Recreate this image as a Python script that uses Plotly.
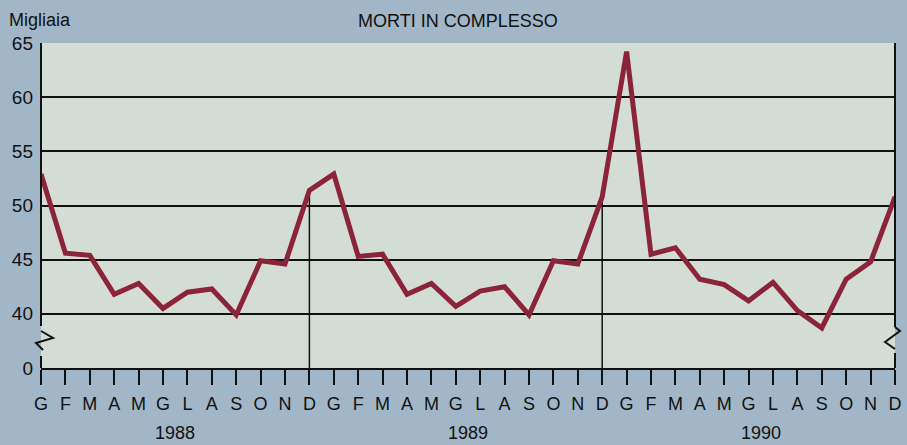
import plotly.graph_objects as go

# ---- data ----
months = ["G", "F", "M", "A", "M", "G", "L", "A", "S", "O", "N", "D"]
years = ["1988", "1989", "1990"]
v1988 = [52.9, 45.6, 45.4, 41.8, 42.8, 40.5, 42.0, 42.3, 39.9, 44.9, 44.6, 51.4]
v1989 = [52.9, 45.3, 45.5, 41.8, 42.8, 40.7, 42.1, 42.5, 39.9, 44.9, 44.6, 50.8]
v1990 = [64.2, 45.5, 46.1, 43.2, 42.7, 41.2, 42.9, 40.3, 38.7, 43.2, 44.8, 50.8]
y_tickvals = [35, 40, 45, 50, 55, 60, 65]
y_ticktext = ["0", "40", "45", "50", "55", "60", "65"]

values = v1988 + v1989 + v1990
xs = list(range(len(values)))
month_labels = months * len(years)

FONT = "Liberation Sans, Arial, sans-serif"
INK = "#111111"
PAPER = "#a1b7c7"
PLOT = "#d4ddd5"
LINE = "#8b2438"

fig = go.Figure()

# year separators: from baseline up to the December value
for yi in range(len(years) - 1):
    xi = (yi + 1) * 12 - 1
    fig.add_trace(go.Scatter(x=[xi, xi], y=[y_tickvals[0], values[xi]], mode="lines",
                             line=dict(color=INK, width=1.5), hoverinfo="skip",
                             showlegend=False))

fig.add_trace(go.Scatter(x=xs, y=values, mode="lines",
                         line=dict(color=LINE, width=5), showlegend=False))

# pixel helpers for decorations (paper coords)
L, R, T, B = 41, 895, 43, 368
def px(x):
    return (x - L) / (R - L)
def py(y):
    return (B - y) / (B - T)

shapes = []
# left axis with break
shapes.append(dict(type="line", xref="paper", yref="paper", x0=0, x1=0, y0=1, y1=py(326),
                   line=dict(color=INK, width=2)))
shapes.append(dict(type="path", xref="paper", yref="paper",
                   path=f"M {px(41)},{py(331)} L {px(53)},{py(338)} L {px(36)},{py(343)} L {px(43)},{py(350)}",
                   line=dict(color=INK, width=2)))
shapes.append(dict(type="line", xref="paper", yref="paper", x0=0, x1=0, y0=py(356), y1=0,
                   line=dict(color=INK, width=2)))
# right border with break
shapes.append(dict(type="line", xref="paper", yref="paper", x0=1, x1=1, y0=1, y1=py(327),
                   line=dict(color=INK, width=2)))
shapes.append(dict(type="path", xref="paper", yref="paper",
                   path=f"M {px(895)},{py(327)} L {px(900)},{py(331)} L {px(885)},{py(342)} L {px(895)},{py(349)}",
                   line=dict(color=INK, width=2)))
shapes.append(dict(type="line", xref="paper", yref="paper", x0=1, x1=1, y0=py(353), y1=0,
                   line=dict(color=INK, width=2)))

annotations = []
for i, yr in enumerate(years):
    annotations.append(dict(text=yr, x=i * 12 + 5.5, xref="x", y=0, yref="paper",
                            yanchor="top", yshift=-53, showarrow=False,
                            font=dict(family=FONT, size=18, color=INK)))
annotations.append(dict(text="MORTI IN COMPLESSO", x=px(458), xref="paper", y=1, yref="paper",
                        xanchor="center", yanchor="bottom", yshift=10, showarrow=False,
                        font=dict(family=FONT, size=18, color=INK)))
annotations.append(dict(text="Migliaia", x=px(7), xref="paper", y=1, yref="paper",
                        xanchor="left", yanchor="bottom", yshift=11, showarrow=False,
                        font=dict(family=FONT, size=18, color=INK)))

fig.update_layout(
    width=907, height=445,
    margin=dict(l=L, r=907 - R, t=T, b=445 - B, autoexpand=False),
    paper_bgcolor=PAPER, plot_bgcolor=PLOT,
    shapes=shapes, annotations=annotations,
    xaxis=dict(range=[0, len(values) - 1], tickvals=xs, ticktext=month_labels,
               ticks="outside", ticklen=15, tickwidth=2, tickcolor=INK,
               showline=True, linecolor=INK, linewidth=2, showgrid=False, zeroline=False,
               tickfont=dict(family=FONT, size=18, color=INK), ticklabelstandoff=3,
               automargin=False, fixedrange=True),
    yaxis=dict(range=[35, 65], tickvals=y_tickvals, ticktext=y_ticktext,
               showgrid=True, gridcolor=INK, gridwidth=1.5, ticks="", showline=False,
               zeroline=False, tickfont=dict(family=FONT, size=19, color=INK),
               ticklabelstandoff=7, automargin=False, fixedrange=True),
    showlegend=False,
)

fig.write_html(
    "out.html",
    config={"displayModeBar": False},
    post_script=f"document.body.style.margin='0';document.body.style.overflow='hidden';"
                f"document.body.style.background='{PAPER}';",
)
